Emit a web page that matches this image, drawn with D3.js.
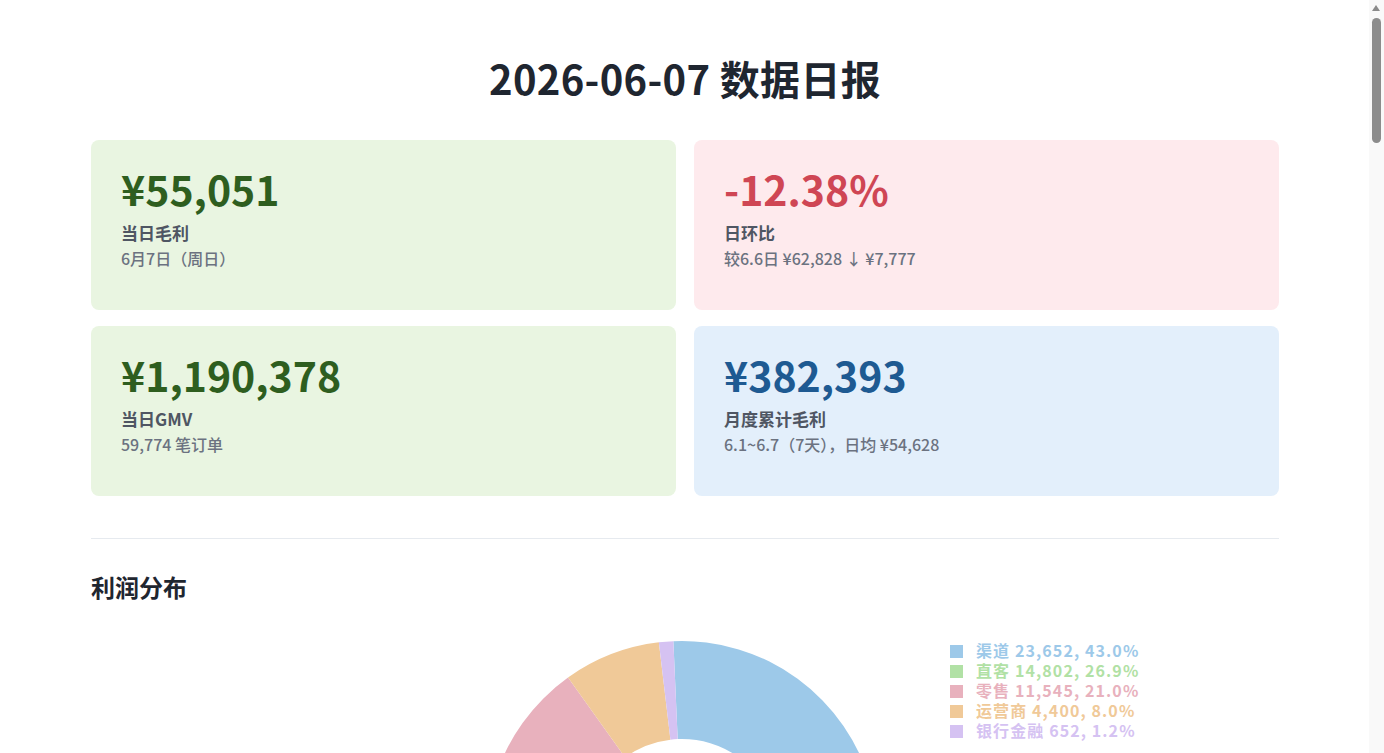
<!DOCTYPE html>
<html lang="zh-CN">
<head>
<meta charset="utf-8">
<title>2026-06-07 数据日报</title>
<script src="https://cdn.jsdelivr.net/npm/d3@7"></script>
<style>
  html, body { margin: 0; padding: 0; background: #fff; }
  body { font-family: "Noto Sans CJK SC", "Noto Sans", sans-serif; color: #1f2630; }
  .wrap { width: 1188px; margin: 0 0 0 91px; }
  h1 { margin: 0; padding-top: 54px; font-size: 40px; line-height: 48px; font-weight: 700; text-align: center; color: #1f2630; letter-spacing: 0.3px; }
  .grid { display: grid; grid-template-columns: 1fr 1fr; column-gap: 18px; row-gap: 16px; margin-top: 38px; }
  .card { height: 170px; box-sizing: border-box; padding: 23px 30px; border-radius: 8px; }
  .card .num { font-size: 41px; line-height: 50px; font-weight: 700; }
  .card .label { margin-top: 8px; font-size: 17px; line-height: 24px; font-weight: 700; color: #4f5663; }
  .card .note { margin-top: 3px; font-size: 16px; line-height: 21px; font-weight: 500; color: #6b7280; }
  .green { background: #e9f5e1; } .green .num { color: #2e5e1f; }
  .red { background: #feeaed; } .red .num { color: #cf4654; }
  .blue { background: #e3effb; } .blue .num { color: #1e5a92; }
  hr { border: 0; border-top: 1px solid #e6eaef; margin: 42px 0 0 0; }
  h2 { margin: 32px 0 0 0; font-size: 24px; line-height: 31px; font-weight: 700; color: #1f2630; }
  #pie { display: block; margin-top: 18px; }
  .spacer { height: 3340px; }
  .sb-track { position: fixed; top: 0; right: 0; width: 15px; height: 100vh; background: #f9f9f9; }
  .sb-arrow { position: absolute; top: 5px; left: 3px; width: 0; height: 0; border-left: 4.5px solid transparent; border-right: 4.5px solid transparent; border-bottom: 6px solid #8a8a8a; }
  .sb-thumb { position: absolute; top: 18px; left: 3px; width: 9px; height: 125px; border-radius: 5px; background: #8c8c8c; }
</style>
</head>
<body>
<div class="wrap">
  <h1 id="title"></h1>
  <div class="grid" id="cards"></div>
  <hr>
  <h2 id="section"></h2>
  <svg id="pie"></svg>
  <div class="spacer"></div>
</div>
<div class="sb-track"><div class="sb-arrow"></div><div class="sb-thumb"></div></div>
<script>
var reportTitle = "2026-06-07 数据日报";
var sectionTitle = "利润分布";

// KPI cards
var kpiValues = ["¥55,051", "-12.38%", "¥1,190,378", "¥382,393"];
var kpiLabels = ["当日毛利", "日环比", "当日GMV", "月度累计毛利"];
var kpiNotes = ["6月7日（周日）", "较6.6日 ¥62,828 ↓ ¥7,777", "59,774 笔订单", "6.1~6.7（7天），日均 ¥54,628"];
var kpiKinds = ["profit", "change", "gmv", "month"];

// profit distribution
var channels = ["渠道", "直客", "零售", "运营商", "银行金融"];
var profits = [23652, 14802, 11545, 4400, 652];

var kindClass = { profit: "green", change: "red", gmv: "green", month: "blue" };
var sliceColors = ["#9dc9e9", "#b1e1a5", "#e8b1bd", "#f0c998", "#d5c2f2"];

d3.select("#title").text(reportTitle);
d3.select("#section").text(sectionTitle);

var cards = d3.select("#cards")
    .selectAll(".card")
    .data(kpiValues)
    .enter()
    .append("div")
    .attr("class", function (d, i) { return "card " + kindClass[kpiKinds[i]]; });

cards.append("div").attr("class", "num").text(function (d) { return d; });
cards.append("div").attr("class", "label").text(function (d, i) { return kpiLabels[i]; });
cards.append("div").attr("class", "note").text(function (d, i) { return kpiNotes[i]; });

// donut
var width = 1188;
var height = 440;
var cx = 591;
var cy = 217;
var outerR = 196;
var innerR = 98;

var svg = d3.select("#pie")
    .attr("width", width)
    .attr("height", height);

var total = d3.sum(profits);
var rows = channels.map(function (c, i) { return { name: c, value: profits[i] }; });

var pie = d3.pie()
    .sort(null)
    .value(function (d) { return d.value; })
    .startAngle(-0.044)
    .endAngle(2 * Math.PI - 0.044);

var arc = d3.arc().innerRadius(innerR).outerRadius(outerR);

var color = d3.scaleOrdinal().domain(channels).range(sliceColors);

svg.append("g")
    .attr("transform", "translate(" + cx + "," + cy + ")")
    .selectAll("path")
    .data(pie(rows))
    .enter()
    .append("path")
    .attr("d", arc)
    .attr("fill", function (d) { return color(d.data.name); });

var legendY = d3.scalePoint().domain(channels).range([31.5, 111.5]);
var fmt = d3.format(",");
var pct = d3.format(".1%");

var legend = svg.append("g")
    .selectAll(".item")
    .data(rows)
    .enter()
    .append("g")
    .attr("class", "item")
    .attr("transform", function (d) { return "translate(859," + legendY(d.name) + ")"; });

legend.append("rect")
    .attr("x", 0)
    .attr("y", -6.5)
    .attr("width", 13)
    .attr("height", 13)
    .attr("fill", function (d) { return color(d.name); });

legend.append("text")
    .attr("x", 26)
    .attr("dy", "0.35em")
    .attr("fill", function (d) { return color(d.name); })
    .style("font-size", "16px")
    .style("font-weight", "700")
    .style("letter-spacing", "1.1px")
    .text(function (d) { return d.name + " " + fmt(d.value) + ", " + pct(d.value / total); });
</script>
</body>
</html>
